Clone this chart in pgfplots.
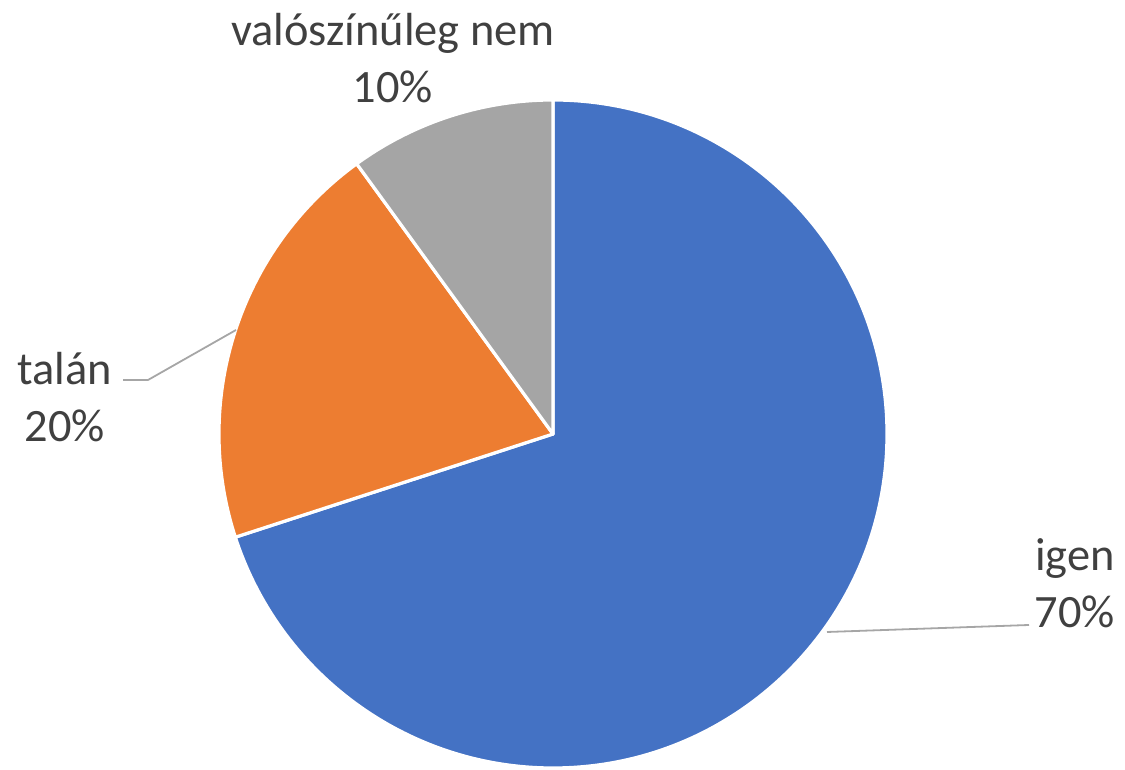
\documentclass[border=0pt]{standalone}
\usepackage{pgfplots}
\pgfplotsset{compat=1.18}
\usepackage{fontspec}
\setmainfont{Carlito}
\definecolor{cigen}{HTML}{4472C4}
\definecolor{ctalan}{HTML}{ED7D31}
\definecolor{cnem}{HTML}{A5A5A5}
\definecolor{labeltxt}{HTML}{404040}
\definecolor{leader}{HTML}{A6A6A6}

% pie centre and radius in pixel units of the axis
\def\cx{553}
\def\cy{333}
\def\rad{167pt}

% #1 = share before this slice (%), #2 = share (%), #3 = colour
\newcommand{\slice}[3]{%
  \pgfmathsetmacro\sa{90-3.6*#1}%
  \pgfmathsetmacro\sb{90-3.6*(#1+#2)}%
  \fill[#3,draw=white,line width=1.6pt,line join=round]
    (axis cs:\cx,\cy) -- ++(\sa:\rad) arc[start angle=\sa,end angle=\sb,radius=\rad] -- cycle;%
}
\tikzset{pielabel/.style={align=center,text=labeltxt,font=\fontsize{23.2}{28.5}\selectfont}}

\begin{document}
\begin{tikzpicture}
\begin{axis}[
  axis lines=none,ticks=none,scale only axis,
  width=562.5pt,height=383.5pt,
  xmin=0,xmax=1125,ymin=0,ymax=767,
  clip=false
]
% igen 70, talán 20, valószínűleg nem 10
\pgfplotsextra{\slice{0}{70}{cigen}}
\pgfplotsextra{\slice{70}{20}{ctalan}}
\pgfplotsextra{\slice{90}{10}{cnem}}

\draw[leader,line width=0.9pt] (axis cs:123,387) -- (axis cs:148,387) -- (axis cs:236,437);
\draw[leader,line width=0.9pt] (axis cs:827,135) -- (axis cs:1029,142);

\node[pielabel] at (axis cs:393,709) {valószínűleg nem\\10\%};
\node[pielabel] at (axis cs:65,370) {talán\\20\%};
\node[pielabel] at (axis cs:1075,184) {igen\\70\%};
\path (axis cs:0,0) rectangle (axis cs:1125,767);
\end{axis}
\end{tikzpicture}
\end{document}
